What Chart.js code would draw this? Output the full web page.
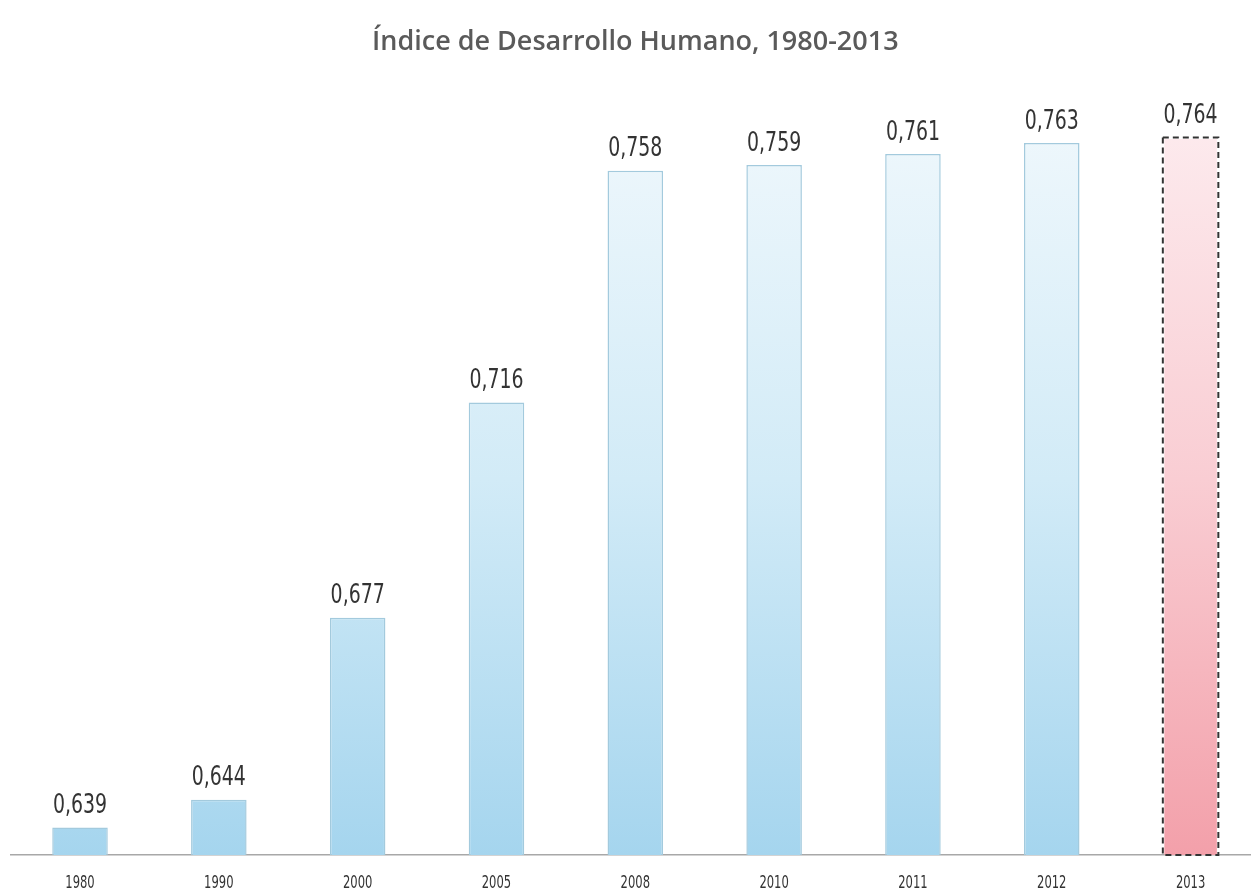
<!DOCTYPE html>
<html>
<head>
<meta charset="utf-8">
<script src="https://cdn.jsdelivr.net/npm/chart.js@4"></script>
<style>
html,body{margin:0;padding:0;background:#fff;overflow:hidden;}
#wrap{width:1251px;height:895px;overflow:hidden;position:relative;}
#c{position:absolute;left:0;top:0;}
</style>
</head>
<body>
<div id="wrap"><canvas id="c" width="1260" height="895"></canvas></div>
<script>
const titleText = "Índice de Desarrollo Humano, 1980-2013";
const years = ["1980","1990","2000","2005","2008","2010","2011","2012","2013"];
const idhValues = [0.639, 0.644, 0.677, 0.716, 0.758, 0.759, 0.761, 0.763, 0.764];
const highlightIndex = 8;

function vGrad(chart, stops){
  const a = chart.chartArea;
  if(!a) return stops[stops.length-1][1];
  const g = chart.ctx.createLinearGradient(0, a.top, 0, a.bottom);
  stops.forEach(s => g.addColorStop(s[0], s[1]));
  return g;
}
const blueStops = [[0,'#f0f8fc'],[0.5,'#d2ebf7'],[1,'#a5d5ee']];
const redStops = [[0,'#fdecef'],[0.5,'#f9cdd3'],[1,'#f3a0aa']];

const valueLabels = {
  id:'valueLabels',
  afterDatasetsDraw(chart){
    const ctx = chart.ctx;
    const meta = chart.getDatasetMeta(0);
    ctx.save();
    ctx.font = '27px "DejaVu Sans", sans-serif';
    ctx.fillStyle = '#333';
    ctx.textAlign = 'center';
    ctx.textBaseline = 'bottom';
    meta.data.forEach((bar, i) => {
      const txt = idhValues[i].toFixed(3).replace('.', ',');
      ctx.save();
      ctx.translate(bar.x, bar.y - 8);
      ctx.scale(0.7, 1);
      ctx.fillText(txt, 0, 0);
      ctx.restore();
    });
    ctx.restore();
  }
};

const xLabels = {
  id:'xLabels',
  afterDraw(chart){
    const ctx = chart.ctx;
    const meta = chart.getDatasetMeta(0);
    ctx.save();
    ctx.font = '17px "DejaVu Sans", sans-serif';
    ctx.fillStyle = '#333';
    ctx.textAlign = 'center';
    ctx.textBaseline = 'middle';
    meta.data.forEach((bar, i) => {
      ctx.save();
      ctx.translate(bar.x, chart.chartArea.bottom + 29);
      ctx.scale(0.68, 1);
      ctx.fillText(years[i], 0, 0);
      ctx.restore();
    });
    ctx.restore();
  }
};

const dashedBorder = {
  id:'dashedBorder',
  afterDatasetsDraw(chart){
    const meta = chart.getDatasetMeta(0);
    const bar = meta.data[highlightIndex];
    const ctx = chart.ctx;
    const w = bar.width;
    const bottom = chart.chartArea.bottom;
    ctx.save();
    ctx.strokeStyle = '#333';
    ctx.lineWidth = 2;
    ctx.setLineDash([6,4]);
    ctx.strokeRect(bar.x - w/2, bar.y, w, bottom - bar.y);
    ctx.restore();
  }
};

new Chart(document.getElementById('c'), {
  type:'bar',
  data:{
    labels: years,
    datasets:[{
      data: idhValues,
      backgroundColor: (c) => vGrad(c.chart, c.dataIndex === highlightIndex ? redStops : blueStops),
      borderColor: (c) => c.dataIndex === highlightIndex ? 'rgba(0,0,0,0)' : '#a3cadd',
      borderWidth: 1.5,
      borderSkipped: 'bottom',
      categoryPercentage: 1,
      barPercentage: 0.4
    }]
  },
  options:{
    responsive:false,
    animation:false,
    layout:{padding:{left:10.6, right:0, top:0, bottom:40}},
    plugins:{
      legend:{display:false},
      tooltip:{enabled:false},
      title:{
        display:true,
        text:titleText,
        color:'#5a5a5a',
        font:{family:'"Open Sans", sans-serif', size:27, weight:'600'},
        padding:{top:26, bottom:46}
      }
    },
    scales:{
      y:{display:false, min:0.634, max:0.77},
      x:{
        grid:{display:false, drawTicks:false},
        border:{display:true, color:'#a8a8a8', width:1.5},
        ticks:{display:false}
      }
    }
  },
  plugins:[valueLabels, dashedBorder, xLabels]
});
</script>
</body>
</html>
